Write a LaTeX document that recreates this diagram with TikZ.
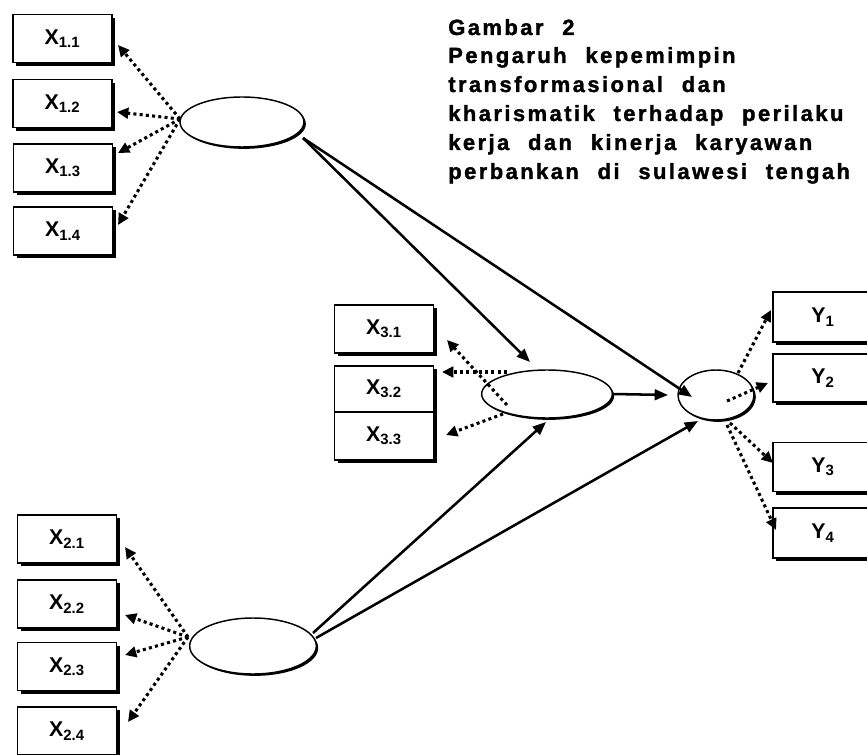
\documentclass[tikz,border=0pt]{standalone}
\usepackage{fontspec}
\setmainfont{Liberation Sans}
\newfontfamily\titlefont[LetterSpace=11,WordSpace=2.2,FakeBold=1.5]{Liberation Sans Bold}
\usetikzlibrary{arrows.meta,shapes.geometric,shadows}
\tikzset{
  obs/.style={draw, line width=1.1pt, fill=white, inner sep=0pt,
    minimum width=74pt, minimum height=36pt,
    font=\fontsize{16}{19}\selectfont\bfseries,
    drop shadow={shadow xshift=2.4pt, shadow yshift=-2.4pt, fill=black, opacity=1}},
  lat/.style={ellipse, draw, line width=1.1pt, fill=white, inner sep=0pt,
    drop shadow={shadow xshift=1.4pt, shadow yshift=-1.4pt, fill=black, opacity=1}},
  dotarrow/.style={line width=2.3pt, dash pattern=on 2.3pt off 2.4pt,
    -{Triangle[length=8.5pt,width=8pt]}},
  solidarrow/.style={line width=1.9pt, -{Triangle[length=10pt,width=8pt]}},
  ttl/.style={anchor=base west, inner sep=0pt,
    font=\titlefont\fontsize{16.5}{20}\selectfont}
}
\begin{document}
\begin{tikzpicture}[x=0.75pt,y=-0.75pt]
\useasboundingbox (0,0) rectangle (867,755);

% title
\node[ttl] (t0) at (448,35) {Gambar 2};
\node[ttl] (t1) at (448,63) {Pengaruh kepemimpin};
\node[ttl] (t2) at (448,92) {transformasional dan};
\node[ttl] (t3) at (448,121) {kharismatik terhadap perilaku};
\node[ttl] (t4) at (448,150) {kerja dan kinerja karyawan};
\node[ttl] (t5) at (448,179) {perbankan di sulawesi tengah};

% latent variables
\node[lat, minimum width=93pt, minimum height=37.5pt] (e1) at (242,122) {};
\node[lat, minimum width=95pt, minimum height=42pt] (e2) at (253,646) {};
\node[lat, minimum width=98pt, minimum height=36pt] (e3) at (547,394) {};
\node[lat, minimum width=57pt, minimum height=37.5pt] (ey) at (716,395) {};

% X1 indicators
\node[obs] (x11) at (62.5,38.5) {X\textsubscript{1.1}\hspace{1.4em}};
\node[obs] (x12) at (62.5,103.5) {X\textsubscript{1.2}\hspace{1.4em}};
\node[obs] (x13) at (63,168) {X\textsubscript{1.3}\hspace{1.4em}};
\node[obs] (x14) at (63,231) {X\textsubscript{1.4}\hspace{1.4em}};

% X2 indicators
\node[obs] (x21) at (67,539) {X\textsubscript{2.1}};
\node[obs] (x22) at (67,604) {X\textsubscript{2.2}};
\node[obs] (x23) at (67,666.5) {X\textsubscript{2.3}};
\node[obs] (x24) at (67,731) {X\textsubscript{2.4}};

% X3 indicators
\node[obs] (x31) at (384,329) {X\textsubscript{3.1}};
\node[obs, minimum height=34.5pt] (x32) at (384,389) {X\textsubscript{3.2}};
\node[obs] (x33) at (384,436) {X\textsubscript{3.3}};

% Y indicators
\node[obs, minimum width=75pt, minimum height=37.5pt] (y1) at (823,317) {Y\textsubscript{1}};
\node[obs, minimum width=75pt] (y2) at (823,378) {Y\textsubscript{2}};
\node[obs, minimum width=75pt, minimum height=37pt] (y3) at (823,467) {Y\textsubscript{3}};
\node[obs, minimum width=75pt, minimum height=37.5pt] (y4) at (823,533) {Y\textsubscript{4}};

% dotted loadings X1
\draw[dotarrow] ([shift={(-62,-3)}]e1.center) -- ([shift={(55.5,6.5)}]x11.center);
\draw[dotarrow] ([shift={(-62,-3)}]e1.center) -- ([shift={(54.5,8.5)}]x12.center);
\draw[dotarrow] ([shift={(-62,-3)}]e1.center) -- ([shift={(55,-15)}]x13.center);
\draw[dotarrow] ([shift={(-62,-3)}]e1.center) -- ([shift={(55,-6)}]x14.center);

% dotted loadings X2
\draw[dotarrow] ([shift={(-65,-9)}]e2.center) -- ([shift={(58,8)}]x21.center);
\draw[dotarrow] ([shift={(-65,-9)}]e2.center) -- ([shift={(58,11)}]x22.center);
\draw[dotarrow] ([shift={(-65,-9)}]e2.center) -- ([shift={(58,-11.5)}]x23.center);
\draw[dotarrow] ([shift={(-65,-9)}]e2.center) -- ([shift={(61,-9)}]x24.center);

% dotted loadings X3
\draw[dotarrow] ([shift={(-40,11)}]e3.center) -- ([shift={(63,11)}]x31.center);
\draw[dotarrow] ([shift={(-40,-22)}]e3.center) -- ([shift={(58,-17)}]x32.center);
\draw[dotarrow] ([shift={(-44,20)}]e3.center) -- ([shift={(62,-1)}]x33.center);

% dotted loadings Y
\draw[dotarrow] ([shift={(22,-22)}]ey.center) -- ([shift={(-52,-7)}]y1.center);
\draw[dotarrow] ([shift={(11,6)}]ey.center) -- ([shift={(-55,5)}]y2.center);
\draw[dotarrow] ([shift={(14,28)}]ey.center) -- ([shift={(-50,-4)}]y3.center);
\draw[dotarrow] ([shift={(11,30)}]ey.center) -- ([shift={(-47,-3)}]y4.center);

% structural paths
\draw[solidarrow] ([shift={(61,16)}]e1.center) -- ([shift={(-17,-32)}]e3.center);
\draw[solidarrow] ([shift={(61,16)}]e1.center) -- ([shift={(-24,2)}]ey.center);
\draw[solidarrow] ([shift={(66,0)}]e3.center) -- ([shift={(-48,0)}]ey.center);
\draw[solidarrow] ([shift={(60,-13)}]e2.center) -- ([shift={(-1,28)}]e3.center);
\draw[solidarrow] ([shift={(63,-8)}]e2.center) -- ([shift={(-18,26)}]ey.center);
\end{tikzpicture}
\end{document}
